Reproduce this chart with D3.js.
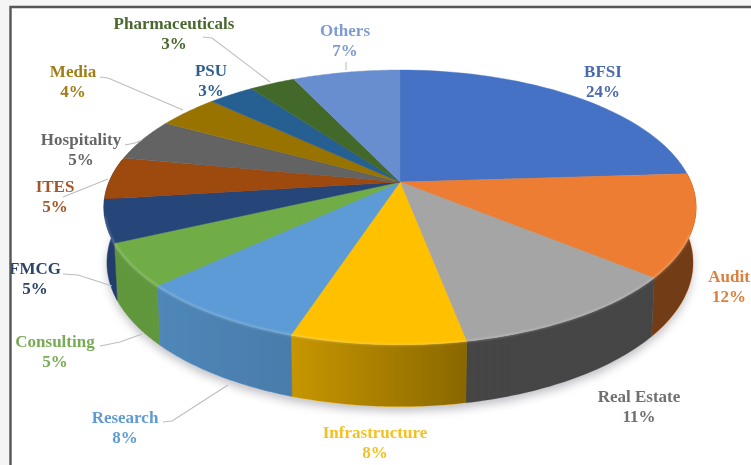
<!DOCTYPE html>
<html><head><meta charset="utf-8">
<script src="https://cdn.jsdelivr.net/npm/d3@7/dist/d3.min.js"></script>
<style>html,body{margin:0;padding:0;background:#f5f5f5}svg{display:block}
text{font-family:"Liberation Serif",serif;font-weight:700;font-size:17px;text-anchor:middle}</style>
</head><body><svg id="c" width="751" height="465"></svg>
<script>
const categories=["BFSI","Audit","Real Estate","Infrastructure","Research","Consulting","FMCG","ITES","Hospitality","Media","PSU","Pharmaceuticals","Others"];
const shares=[24,12,11,8,8,5,5,5,5,4,3,3,7];
const topColors=["#4472c4","#ed7d31","#a5a5a5","#ffc000","#5b9bd5","#70ad47","#264478","#9e480e","#636363","#997300","#255e91","#43682b","#698ed0"];
const labelColors=["#4a6ab0","#dd7f3c","#6f6f6f","#f5c021","#5f9bd2","#78ab55","#2c4468","#a3562a","#666666","#a27c14","#2f5f90","#48682f","#7f9bd0"];
const labelPos=[[603,77],[729,282],[639,402],[375,438],[125,423],[55,347],[35,274],[55,192],[81,145],[73,77],[211,76],[174,29],[345,36]];
const leaders=[null,null,null,null,
 [[163,422],[172,421],[228,385]],
 [[100,346],[120,342],[142,334]],
 [[63,274],[78,275],[112,286]],
 [[63,197],[108,179]],
 [[125,145],[135,143],[142,140]],
 [[100,77],[108,78],[183,110]],
 null,
 [[203,37],[212,38],[270,82]],
 [[346,62],[346,70]]];
// darkening of each visible side wall, left edge then right edge
const sideShade=[null,[.52,.52],[.58,.58],[.22,.46],[.13,.2],[.13,.13],[.1,.1],null,null,null,null,null,null];

const svg=d3.select("#c");
const cx=400, cy=182, p=0.185;
const project=(a,R,k,y0)=>{const X=Math.sin(a),Y=-Math.cos(a),d=1-p*Y;return [cx+R*X/d,y0+k*Y/d];};
const topRim=a=>project(a,291,132.7,cy);
const lowRim=a=>project(a,288,139,236);
const pie=d3.pie().sort(null).value(d=>d)(shares);
const line=d3.line();
const arcAngles=(s,e)=>d3.range(0,41).map(i=>s+(e-s)*i/40);

const defs=svg.append("defs");
const blur=defs.append("filter").attr("id","soft").attr("x","-10%").attr("y","-10%").attr("width","120%").attr("height","120%");
blur.append("feGaussianBlur").attr("stdDeviation",0.45);
const shadowBlur=defs.append("filter").attr("id","shadow").attr("x","-10%").attr("y","-10%").attr("width","120%").attr("height","130%");
shadowBlur.append("feGaussianBlur").attr("stdDeviation",5);
const rimBlur=defs.append("filter").attr("id","rim");
rimBlur.append("feGaussianBlur").attr("stdDeviation",1.2);
const edgeBlur=defs.append("filter").attr("id","edge").attr("x","-5%").attr("y","-5%").attr("width","110%").attr("height","110%");
edgeBlur.append("feGaussianBlur").attr("stdDeviation",0.5);

sideShade.forEach((s,i)=>{ if(!s) return;
 const g=defs.append("linearGradient").attr("id","shade"+i);
 g.append("stop").attr("offset",0).attr("stop-color","#000").attr("stop-opacity",s[0]);
 g.append("stop").attr("offset",1).attr("stop-color","#000").attr("stop-opacity",s[1]);
});

svg.append("rect").attr("x",10).attr("y",7).attr("width",741).attr("height",458).attr("fill","#fff");

const all=arcAngles(0,2*Math.PI);
svg.append("path").attr("d",line(all.map(lowRim))+"Z").attr("transform","translate(0,5)")
 .attr("fill","#8c8c96").attr("opacity",.55).attr("filter","url(#shadow)");

// side wall: only the front slices; FMCG wraps round the left silhouette
const sideExtra=categories.indexOf("FMCG");
const band=(d,i)=>{const e=d.endAngle+(i===sideExtra?0.3:0);const a=arcAngles(d.startAngle,e);
 return line(a.map(topRim).concat(a.slice().reverse().map(lowRim)))+"Z";};
const front=pie.map((d,i)=>({d,i})).filter(o=>sideShade[o.i]);
const stack=svg.append("g").attr("filter","url(#edge)");
stack.append("g").selectAll("path").data(front).join("path").attr("d",o=>band(o.d,o.i))
 .attr("fill",o=>topColors[o.i]).attr("stroke",o=>topColors[o.i]).attr("stroke-width",.5);
stack.append("g").selectAll("path").data(front).join("path").attr("d",o=>band(o.d,o.i))
 .attr("fill",o=>`url(#shade${o.i})`);

const face=d=>line([[cx,cy]].concat(arcAngles(d.startAngle,d.endAngle).map(topRim)))+"Z";
stack.append("g").selectAll("path").data(pie).join("path").attr("d",face)
 .attr("fill",(d,i)=>topColors[i]).attr("stroke",(d,i)=>topColors[i]).attr("stroke-width",.4);

const frontRim=arcAngles(Math.PI*0.62,Math.PI*1.42);
svg.append("path").attr("d",line(frontRim.map(topRim))).attr("fill","none")
 .attr("stroke","#fff").attr("stroke-opacity",.28).attr("stroke-width",1.6).attr("filter","url(#rim)");

svg.append("g").selectAll("path").data(leaders.filter(Boolean)).join("path")
 .attr("d",line).attr("fill","none").attr("stroke","#bdbdbd").attr("stroke-width",1.1);

const labels=svg.append("g").attr("filter","url(#soft)").selectAll("text").data(categories).join("text")
 .attr("fill",(d,i)=>labelColors[i])
 .attr("transform",(d,i)=>`translate(${labelPos[i][0]},${labelPos[i][1]})`);
labels.append("tspan").attr("x",0).attr("y",0).text(d=>d);
labels.append("tspan").attr("x",0).attr("y",20).text((d,i)=>shares[i]+"%");

svg.append("path").attr("d","M10.5,465V7H751").attr("fill","none").attr("stroke","#565656").attr("stroke-width",2.4);
</script></body></html>
